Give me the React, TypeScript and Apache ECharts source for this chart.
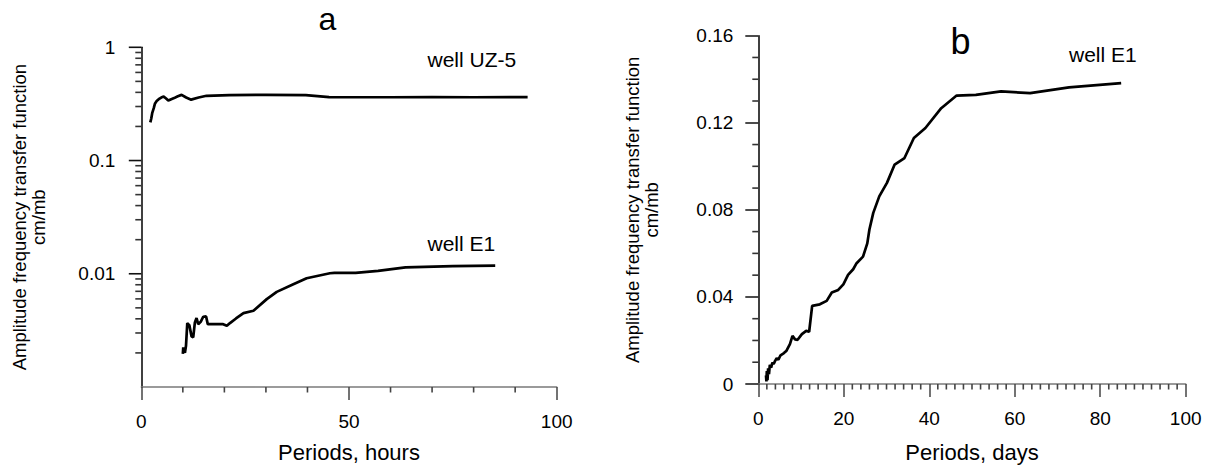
import React, { useEffect, useRef } from "react";
import * as echarts from "echarts";

// ---- data ----
const hoursUZ5: [number, number][] = [
  [2.17, 0.217], [2.4, 0.235], [2.62, 0.262], [3.0, 0.29], [3.27, 0.317], [3.7, 0.335],
  [4.19, 0.348], [4.8, 0.36], [5.39, 0.367], [5.9, 0.355], [6.5, 0.339], [7.2, 0.348],
  [7.9, 0.356], [8.8, 0.37], [9.7, 0.38], [10.8, 0.36], [12.0, 0.345], [13.8, 0.36],
  [15.7, 0.373], [21.2, 0.378], [30, 0.38], [39.6, 0.378], [45.2, 0.363], [60, 0.362],
  [70, 0.364], [80, 0.362], [93.0, 0.363],
];
const hoursE1: [number, number][] = [
  [10.0, 0.00196], [10.1, 0.00224], [10.5, 0.002], [10.76, 0.00231], [11.07, 0.00366],
  [11.56, 0.00352], [12.1, 0.0028], [12.5, 0.00274], [12.9, 0.00372], [13.3, 0.00406],
  [13.7, 0.00359], [14.3, 0.00376], [14.9, 0.00417], [15.6, 0.0042], [16.0, 0.00359],
  [19.7, 0.00359], [20.6, 0.00347], [21.35, 0.00367], [22.8, 0.00403], [24.6, 0.00449],
  [27.0, 0.00471], [30.2, 0.00597], [32.6, 0.00692], [36.6, 0.00809], [39.8, 0.00912],
  [45.4, 0.0101], [46.5, 0.0102], [51.6, 0.0102], [57, 0.0106], [63.6, 0.0114],
  [75, 0.0117], [85.2, 0.0118],
];
const daysE1: [number, number][] = [
  [1.8, 0.004], [1.9, 0.0012], [2.0, 0.006], [2.15, 0.0018], [2.3, 0.0072], [2.5, 0.0045],
  [2.7, 0.0088], [3.0, 0.0075], [3.3, 0.0098], [3.6, 0.0092], [3.9, 0.0105], [4.3, 0.0118],
  [4.7, 0.0112], [5.2, 0.0132], [6.0, 0.0142], [6.6, 0.0153], [7.4, 0.0183], [8.0, 0.0221],
  [8.6, 0.0205], [9.2, 0.0203], [10.2, 0.0229], [11.2, 0.0244], [11.9, 0.024], [12.6, 0.0359],
  [14.4, 0.0366], [16.0, 0.0382], [17.2, 0.042], [18.7, 0.0432], [19.9, 0.0458], [21.0, 0.0501],
  [22.2, 0.0527], [23.0, 0.0555], [24.5, 0.0585], [25.5, 0.0646], [26.0, 0.071], [26.9, 0.0786],
  [28.3, 0.0862], [30.1, 0.0924], [31.9, 0.1008], [34.2, 0.1038], [36.4, 0.113], [39.1, 0.1176],
  [42.8, 0.1267], [46.4, 0.1325], [50.9, 0.1328], [56.8, 0.1344], [63.6, 0.1336],
  [72.7, 0.1363], [84.9, 0.1382],
];

// ticks
const logMajorTicks = [1, 0.1, 0.01];
const logLabels = ["1", "0.1", "0.01"];
const logMinorTicks = [
  0.002, 0.003, 0.004, 0.005, 0.006, 0.007, 0.008, 0.009,
  0.02, 0.03, 0.04, 0.05, 0.06, 0.07, 0.08, 0.09,
  0.2, 0.3, 0.4, 0.5, 0.6, 0.7, 0.8, 0.9,
];
const hoursMinorTicks = [10, 20, 30, 40, 60, 70, 80, 90];
const daysMinorTicks = [
  2, 4, 6, 8, 10, 12, 14, 16, 18, 22, 24, 26, 28, 30, 32, 34, 36, 38,
  42, 44, 46, 48, 50, 52, 54, 56, 58, 62, 64, 66, 68, 70, 72, 74, 76, 78,
  82, 84, 86, 88, 90, 92, 94, 96, 98,
];
const ampMinorTicks = [0.01, 0.02, 0.03, 0.05, 0.06, 0.07, 0.09, 0.1, 0.11, 0.13, 0.14, 0.15];

const titleA = "a";
const titleB = "b";
const yName = "Amplitude frequency transfer function\ncm/mb";
const xNameHours = "Periods, hours";
const xNameDays = "Periods, days";

const FONT = "Liberation Sans, Arial, sans-serif";

export default function App() {
  const ref = useRef<HTMLDivElement>(null);
  useEffect(() => {
    if (!ref.current) return;
    const chart = echarts.init(ref.current, undefined, { renderer: "svg" });

    const xAxisCommon = {
      type: "value" as const,
      min: 0,
      max: 100,
      splitLine: { show: false },
      axisLine: { lineStyle: { color: "#7a7a7a", width: 1.5 } },
      axisTick: { length: 13, lineStyle: { color: "#444", width: 1.5 } },
      axisLabel: { fontSize: 19, color: "#000", margin: 25, fontFamily: FONT },
      nameLocation: "middle" as const,
      nameTextStyle: { fontSize: 22, color: "#000", fontFamily: FONT },
    };
    const yNameStyle = { fontSize: 18.5, lineHeight: 19, color: "#000", fontFamily: FONT, align: "center" };

    chart.setOption({
      animation: false,
      backgroundColor: "#fff",
      grid: [
        { left: 141.3, top: 47.3, width: 415.4, height: 340.7 },
        { left: 758.3, top: 35.7, width: 427.4, height: 349.3 },
      ],
      xAxis: [
        { ...xAxisCommon, gridIndex: 0, interval: 50, name: xNameHours, nameGap: 54 },
        { ...xAxisCommon, gridIndex: 1, interval: 20, name: xNameDays, nameGap: 57 },
      ],
      yAxis: [
        {
          type: "log",
          gridIndex: 0,
          logBase: 10,
          min: 0.001,
          max: 1,
          splitLine: { show: false },
          axisLine: { show: true, lineStyle: { color: "#000", width: 1.5 } },
          axisTick: { show: false },
          axisLabel: {
            fontSize: 19,
            color: "#000",
            margin: 26,
            fontFamily: FONT,
            formatter: (v: number) => {
              const i = logMajorTicks.findIndex((m) => Math.abs(Math.log10(v) - Math.log10(m)) < 1e-6);
              return i >= 0 ? logLabels[i] : "";
            },
          },
          name: yName,
          nameLocation: "middle",
          nameRotate: 90,
          nameGap: 93,
          nameTextStyle: yNameStyle,
        },
        {
          type: "value",
          gridIndex: 1,
          min: 0,
          max: 0.16,
          interval: 0.04,
          splitLine: { show: false },
          axisLine: { show: true, lineStyle: { color: "#000", width: 1.5 } },
          axisTick: { length: 13, lineStyle: { color: "#111", width: 1.5 } },
          axisLabel: { fontSize: 19, color: "#000", margin: 25, fontFamily: FONT },
          name: yName,
          nameLocation: "middle",
          nameRotate: 90,
          nameGap: 97,
          nameTextStyle: yNameStyle,
        },
      ],
      series: [
        { type: "line", xAxisIndex: 0, yAxisIndex: 0, data: hoursUZ5, symbol: "none", lineStyle: { color: "#000", width: 2.7 } },
        { type: "line", xAxisIndex: 0, yAxisIndex: 0, data: hoursE1, symbol: "none", lineStyle: { color: "#000", width: 2.7 } },
        { type: "line", xAxisIndex: 1, yAxisIndex: 1, data: daysE1, symbol: "none", lineStyle: { color: "#000", width: 2.7 } },
      ],
    });

    // ticks placed through the library's own scales
    const seg = (x1: number, y1: number, x2: number, y2: number, stroke: string, w = 1.6) => ({
      type: "line",
      silent: true,
      z: 10,
      shape: { x1, y1, x2, y2 },
      style: { stroke, lineWidth: w },
    });
    const g: any[] = [];
    logMajorTicks.forEach((v) => {
      const p = chart.convertToPixel({ gridIndex: 0 }, [0, v]) as number[];
      g.push(seg(p[0] - 12.5, p[1], p[0], p[1], "#111"));
    });
    logMinorTicks.forEach((v) => {
      const p = chart.convertToPixel({ gridIndex: 0 }, [0, v]) as number[];
      g.push(seg(p[0] - 6, p[1], p[0], p[1], "#333"));
    });
    hoursMinorTicks.forEach((v) => {
      const p = chart.convertToPixel({ gridIndex: 0 }, [v, 0.001]) as number[];
      g.push(seg(p[0], p[1], p[0], p[1] + 5.5, "#444"));
    });
    daysMinorTicks.forEach((v) => {
      const p = chart.convertToPixel({ gridIndex: 1 }, [v, 0]) as number[];
      g.push(seg(p[0], p[1], p[0], p[1] + 5.5, "#444"));
    });
    ampMinorTicks.forEach((v) => {
      const p = chart.convertToPixel({ gridIndex: 1 }, [0, v]) as number[];
      g.push(seg(p[0] - 6, p[1], p[0], p[1], "#333"));
    });

    const txt = (text: string, x: number, y: number, size: number, align: string) => ({
      type: "text",
      x,
      y,
      style: { text, font: `${size}px ${FONT}`, fill: "#000", align, verticalAlign: "middle" },
    });
    g.push(txt(titleA, 327.5, 19, 32, "center"));
    g.push(txt(titleB, 960.5, 41.7, 36, "center"));
    g.push(txt("well UZ-5", 427.5, 59.2, 21, "left"));
    g.push(txt("well E1", 427.5, 243.2, 21, "left"));
    g.push(txt("well E1", 1069, 54.7, 21, "left"));

    chart.setOption({ graphic: g });
    return () => chart.dispose();
  }, []);
  return (
    <div
      ref={ref}
      style={{ position: "absolute", left: 0, top: 0, width: 1208, height: 468, background: "#fff" }}
    />
  );
}
